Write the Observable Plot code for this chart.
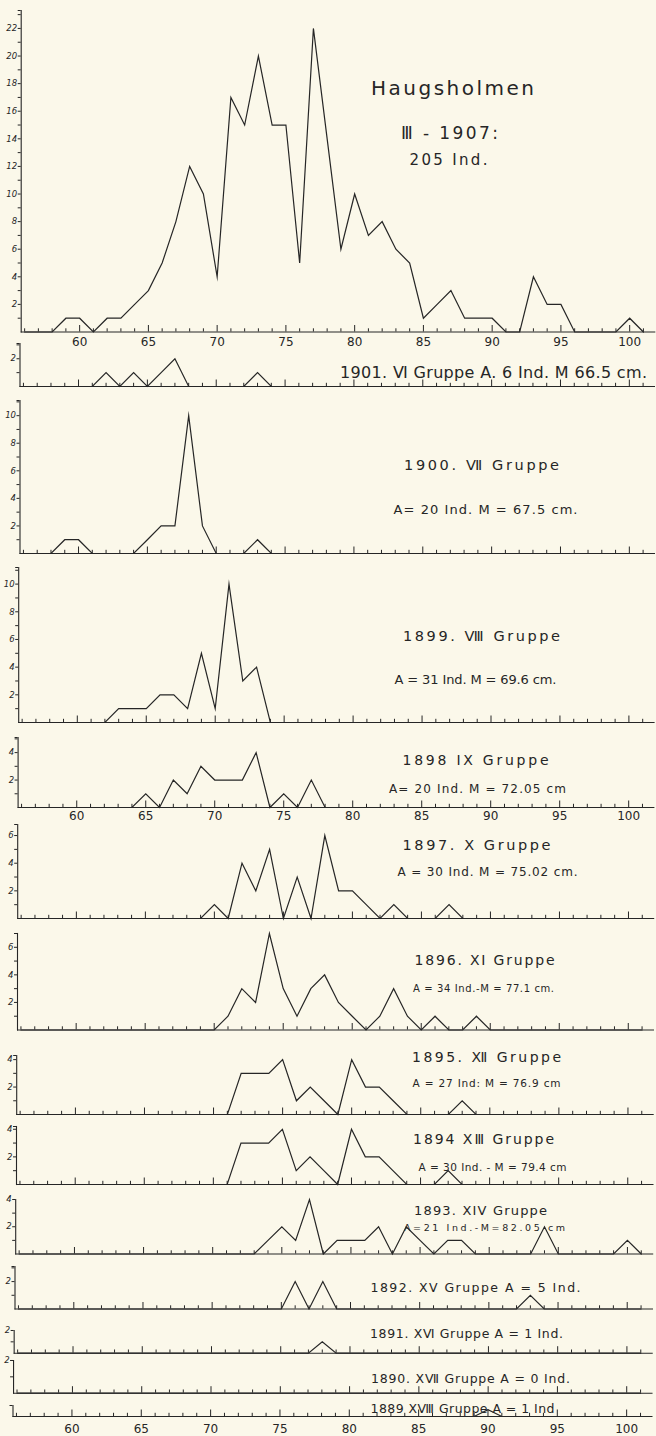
<!DOCTYPE html>
<html>
<head>
<meta charset="utf-8">
<script src="https://cdn.jsdelivr.net/npm/d3@7"></script>
<script src="https://cdn.jsdelivr.net/npm/@observablehq/plot@0.6"></script>
<style>
  html, body { margin: 0; padding: 0; background: #fbf8ea; }
  #page { position: relative; width: 656px; height: 1436px; background: #fbf8ea; overflow: hidden; }
  #page svg { position: absolute; left: 0; overflow: visible; }
</style>
</head>
<body>
<div id="page"></div>
<script>
// ---------- DATA ----------
// Body length classes (cm), 56 .. 101
const lengthCm = d3.range(56, 102);
// Major / minor x tick values and labels
const xMajorTicks = [60, 65, 70, 75, 80, 85, 90, 95, 100];
const xMinorTicks = d3.range(56, 102).filter(d => d % 5 !== 0);

// Number of individuals per length class (index 0 = 56 cm ... index 45 = 101 cm)
//                 56-60          61-65          66-70             71-75             76-80            81-85          86-90          91-95          96-100         101
const n1907 = [0,0,0,1,1,      0,1,1,2,3,     5,8,12,10,4,      17,15,20,15,15,   5,22,14,6,10,    7,8,6,5,1,     2,3,1,1,1,     0,0,4,2,2,     0,0,0,0,1,     0];
const n1901 = [0,0,0,0,0,      0,1,0,1,0,     1,2,0,0,0,        0,0,1,0,0,        0,0,0,0,0,       0,0,0,0,0,     0,0,0,0,0,     0,0,0,0,0,     0,0,0,0,0,     0];
const n1900 = [0,0,0,1,1,      0,0,0,0,1,     2,2,10,2,0,       0,0,1,0,0,        0,0,0,0,0,       0,0,0,0,0,     0,0,0,0,0,     0,0,0,0,0,     0,0,0,0,0,     0];
const n1899 = [0,0,0,0,0,      0,0,1,1,1,     2,2,1,5,1,        10,3,4,0,0,       0,0,0,0,0,       0,0,0,0,0,     0,0,0,0,0,     0,0,0,0,0,     0,0,0,0,0,     0];
const n1898 = [0,0,0,0,0,      0,0,0,0,1,     0,2,1,3,2,        2,2,4,0,1,        0,2,0,0,0,       0,0,0,0,0,     0,0,0,0,0,     0,0,0,0,0,     0,0,0,0,0,     0];
const n1897 = [0,0,0,0,0,      0,0,0,0,0,     0,0,0,0,1,        0,4,2,5,0,        3,0,6,2,2,       1,0,1,0,0,     0,1,0,0,0,     0,0,0,0,0,     0,0,0,0,0,     0];
const n1896 = [0,0,0,0,0,      0,0,0,0,0,     0,0,0,0,0,        1,3,2,7,3,        1,3,4,2,1,       0,1,3,1,0,     1,0,0,1,0,     0,0,0,0,0,     0,0,0,0,0,     0];
const n1895 = [0,0,0,0,0,      0,0,0,0,0,     0,0,0,0,0,        0,3,3,3,4,        1,2,1,0,4,       2,2,1,0,0,     0,0,1,0,0,     0,0,0,0,0,     0,0,0,0,0,     0];
const n1894 = [0,0,0,0,0,      0,0,0,0,0,     0,0,0,0,0,        0,3,3,3,4,        1,2,1,0,4,       2,2,1,0,0,     0,1,0,0,0,     0,0,0,0,0,     0,0,0,0,0,     0];
const n1893 = [0,0,0,0,0,      0,0,0,0,0,     0,0,0,0,0,        0,0,0,1,2,        1,4,0,1,1,       1,2,0,2,1,     0,1,1,0,0,     0,0,0,2,0,     0,0,0,0,1,     0];
const n1892 = [0,0,0,0,0,      0,0,0,0,0,     0,0,0,0,0,        0,0,0,0,0,        2,0,2,0,0,       0,0,0,0,0,     0,0,0,0,0,     0,0,1,0,0,     0,0,0,0,0,     0];
const n1891 = [0,0,0,0,0,      0,0,0,0,0,     0,0,0,0,0,        0,0,0,0,0,        0,0,1,0,0,       0,0,0,0,0,     0,0,0,0,0,     0,0,0,0,0,     0,0,0,0,0,     0];
const n1890 = [0,0,0,0,0,      0,0,0,0,0,     0,0,0,0,0,        0,0,0,0,0,        0,0,0,0,0,       0,0,0,0,0,     0,0,0,0,0,     0,0,0,0,0,     0,0,0,0,0,     0];
const n1889 = [0,0,0,0,0,      0,0,0,0,0,     0,0,0,0,0,        0,0,0,0,0,        0,0,0,0,0,       0,0,0,0,0,     0,0,0,0,1,     0,0,0,0,0,     0,0,0,0,0,     0];

const series = {1907: n1907, 1901: n1901, 1900: n1900, 1899: n1899, 1898: n1898, 1897: n1897, 1896: n1896,
  1895: n1895, 1894: n1894, 1893: n1893, 1892: n1892, 1891: n1891, 1890: n1890, 1889: n1889};

// Panel texts
const panelTexts = {
  1907: ["Haugsholmen", "Ⅲ - 1907:", "205 Ind."],
  1901: ["1901. Ⅵ Gruppe A. 6 Ind. M 66.5 cm."],
  1900: ["1900. Ⅶ Gruppe", "A= 20 Ind. M = 67.5 cm."],
  1899: ["1899. Ⅷ Gruppe", "A = 31 Ind. M = 69.6 cm."],
  1898: ["1898 IX Gruppe", "A= 20 Ind. M = 72.05 cm"],
  1897: ["1897. X Gruppe", "A = 30 Ind. M = 75.02 cm."],
  1896: ["1896. XI Gruppe", "A = 34 Ind.-M = 77.1 cm."],
  1895: ["1895. Ⅻ Gruppe", "A = 27 Ind: M = 76.9 cm"],
  1894: ["1894 XⅢ Gruppe", "A = 30 Ind. - M = 79.4 cm"],
  1893: ["1893. XIV Gruppe", "A=21 Ind.-M=82.05 cm"],
  1892: ["1892. XV Gruppe A = 5 Ind."],
  1891: ["1891. XⅥ Gruppe A = 1 Ind."],
  1890: ["1890. XⅦ Gruppe A = 0 Ind."],
  1889: ["1889 XⅧ Gruppe A = 1 Ind"]
};

// ---------- LAYOUT (page pixels) ----------
const panels = [
  {key: 1907, left: 20.7, right: 655.3, top: 9.5,  base: 331,    ymax: 23.3, xLabels: true, pad: 5},
  {key: 1901, left: 19.5, right: 655,   top: 343,  base: 386,    ymax: 3.1},
  {key: 1900, left: 19.5, right: 655,   top: 400,  base: 553,    ymax: 11.1},
  {key: 1899, left: 18.2, right: 654.6, top: 567,  base: 722,    ymax: 11.2},
  {key: 1898, left: 17.6, right: 654.4, top: 737,  base: 807,    ymax: 5.1, xLabels: true, pad: 4},
  {key: 1897, left: 17.2, right: 654.2, top: 824,  base: 918,    ymax: 6.8},
  {key: 1896, left: 17,   right: 654,   top: 933,  base: 1029.5, ymax: 7},
  {key: 1895, left: 16.2, right: 653.7, top: 1055, base: 1114,   ymax: 4.3},
  {key: 1894, left: 16,   right: 653.5, top: 1126, base: 1184,   ymax: 4.2},
  {key: 1893, left: 15.2, right: 653.2, top: 1199, base: 1253.5, ymax: 4},
  {key: 1892, left: 14.5, right: 653,   top: 1266, base: 1308.5, ymax: 3.1},
  {key: 1891, left: 13.6, right: 652.8, top: 1330, base: 1352.7, ymax: 2},
  {key: 1890, left: 13,   right: 652.6, top: 1360, base: 1392.7, ymax: 2},
  {key: 1889, left: 12.5, right: 652.5, top: 1405, base: 1416,   ymax: 1.6, xLabels: true, pad: 8, noYTicks: true}
];
// text placement: [centerX, centerY, fontSize, width]
const textPlacement = {
  1907: [[452, 88, 20, 163], [449, 133, 17, 97], [448, 159, 15, 78]],
  1901: [[493, 372, 16, 307]],
  1900: [[481, 465, 14.5, 155], [485, 509, 13, 184]],
  1899: [[481, 636, 14.5, 157], [475, 679, 13, 162]],
  1898: [[475, 760, 14, 146], [477, 789, 12, 177]],
  1897: [[476, 845, 14.5, 148], [487, 872, 12, 180]],
  1896: [[484, 960, 14, 140], [483, 988, 10, 141]],
  1895: [[486, 1057, 14, 149], [486, 1083, 10.5, 148]],
  1894: [[483, 1139, 14, 141], [492, 1167, 10.5, 148]],
  1893: [[480, 1210, 13, 133], [484, 1227, 9.5, 161]],
  1892: [[475, 1287, 12.5, 210]],
  1891: [[466, 1334, 12.5, 193]],
  1890: [[470, 1379, 12.5, 199]],
  1889: [[462, 1408, 12.5, 184]]
};

const ink = "#262626";
const fontFamily = '"DejaVu Sans", "Noto Sans", sans-serif';
const xDomain = [55.75, 101.9];
const page = document.getElementById("page");

for (const p of panels) {
  const counts = series[p.key];
  const rows = lengthCm.map((x, i) => ({x, n: counts[i]}));
  const mt = 30, mb = p.xLabels ? 22 : 6;
  const h = p.base - p.top + mt + mb;
  const yInts = d3.range(1, Math.floor(p.ymax + 1e-9) + 1);
  const yTicks = p.noYTicks ? [p.ymax] : Array.from(new Set([...yInts, p.ymax]));
  const texts = panelTexts[p.key];
  const place = textPlacement[p.key];

  const marks = [
    Plot.frame({anchor: "left", stroke: ink, strokeWidth: 1.1}),
    Plot.ruleY([0], {stroke: ink, strokeWidth: 1.1}),
    Plot.axisY({ticks: yTicks, tickSize: 3, tickPadding: 1, label: null, stroke: ink, fill: ink,
      fontSize: 8.5, fontStyle: "italic",
      tickFormat: d => (!p.noYTicks && Number.isInteger(d) && d % 2 === 0) ? d : ""}),
    Plot.axisX({ticks: xMinorTicks, tickSize: -3.2, tickFormat: () => "", label: null, stroke: ink}),
    Plot.axisX({ticks: xMajorTicks, tickSize: -6.5, tickFormat: () => "", label: null, stroke: ink}),
    Plot.lineY(rows, {x: "x", y: "n", stroke: ink, strokeWidth: 1.2, strokeLinejoin: "miter", strokeMiterlimit: 10})
  ];
  if (p.xLabels) {
    marks.push(Plot.axisX({ticks: xMajorTicks, tickSize: 0, tickPadding: p.pad, label: null, fontSize: 12, fill: ink, tickFormat: d => String(d)}));
  }
  texts.forEach((t, i) => {
    const [cx, cy, fs] = place[i];
    marks.push(Plot.text([t], {text: d => d, frameAnchor: "top-left", dx: cx - p.left, dy: cy - p.top,
      textAnchor: "middle", lineAnchor: "middle", fontSize: fs, fill: ink}));
  });

  const svg = Plot.plot({
    width: 656, height: h,
    marginTop: mt, marginBottom: mb, marginLeft: p.left, marginRight: 656 - p.right,
    x: {domain: xDomain},
    y: {domain: [0, p.ymax]},
    style: {background: "transparent", overflow: "visible", color: ink, fontFamily}
  , marks});
  svg.style.top = (p.top - mt) + "px";
  // fit annotation widths to the hand-lettered originals
  const tEls = svg.querySelectorAll('g[aria-label="text"] text');
  tEls.forEach((el, i) => {
    if (place[i]) {
      el.setAttribute("textLength", place[i][3]);
      el.setAttribute("lengthAdjust", "spacing");
    }
  });
  page.appendChild(svg);
}
</script>
</body>
</html>
